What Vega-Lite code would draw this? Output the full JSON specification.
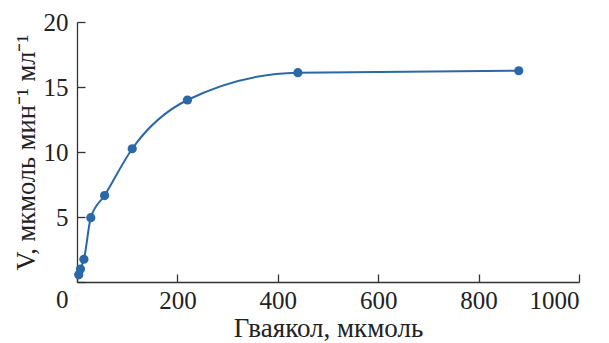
{
  "$schema": "https://vega.github.io/schema/vega-lite/v6.json",
  "width": 502,
  "height": 260,
  "autosize": "none",
  "padding": {"left": 77, "top": 22, "right": 30, "bottom": 61},
  "background": "white",
  "config": {
    "view": {"stroke": null},
    "font": "Liberation Serif",
    "axis": {
      "grid": false,
      "domainColor": "#333333",
      "domainWidth": 1.3,
      "tickColor": "#333333",
      "tickWidth": 1.3,
      "tickSize": -8,
      "labelFont": "Liberation Serif",
      "titleFont": "Liberation Serif",
      "labelFontSize": 25,
      "titleFontSize": 27,
      "labelColor": "#222222",
      "titleColor": "#222222",
      "titleFontWeight": "normal"
    }
  },
  "data": {
    "values": [
      {"x": 3.44, "v": 0.55},
      {"x": 6.875, "v": 1.0},
      {"x": 13.75, "v": 1.75},
      {"x": 27.5, "v": 4.95},
      {"x": 55, "v": 6.65},
      {"x": 110, "v": 10.25},
      {"x": 220, "v": 14.0},
      {"x": 440, "v": 16.1},
      {"x": 880, "v": 16.25}
    ]
  },
  "encoding": {
    "x": {
      "field": "x", "type": "quantitative",
      "scale": {"domain": [0, 1000], "nice": false},
      "axis": {
        "values": [0, 200, 400, 600, 800, 1000],
        "format": "d",
        "labelExpr": "datum.value == 0 ? '' : datum.label",
        "title": "Гваякол, мкмоль",
        "labelPadding": 14,
        "titlePadding": 2
      }
    },
    "y": {
      "field": "v", "type": "quantitative",
      "scale": {"domain": [0, 20], "nice": false},
      "axis": {
        "values": [0, 5, 10, 15, 20],
        "format": "d",
        "labelOffset": {"condition": {"test": "datum.value == 0", "value": 17}, "value": 0},
        "title": "V, мкмоль мин⁻¹ мл⁻¹",
        "titleFontSize": 26.5,
        "labelPadding": 17,
        "titlePadding": 3
      }
    }
  },
  "layer": [
    {"mark": {"type": "line", "interpolate": "monotone", "color": "#2a68a6", "strokeWidth": 2}},
    {"mark": {"type": "point", "filled": true, "color": "#2a68a6", "size": 85, "opacity": 1}}
  ]
}
